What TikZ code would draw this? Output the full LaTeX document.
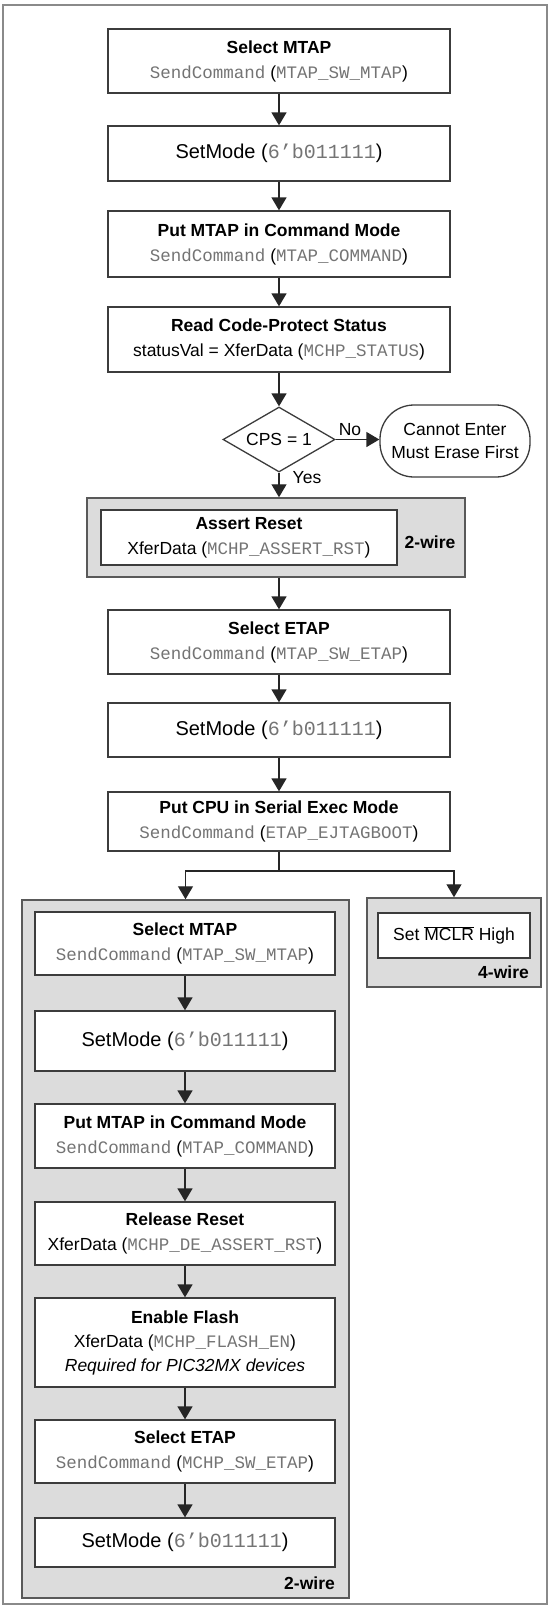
\documentclass[tikz,border=0pt]{standalone}
\usepackage{fontspec}
\setmainfont{Liberation Sans}
\setmonofont{Liberation Mono}
\usetikzlibrary{arrows.meta,shapes.geometric}
\definecolor{boxline}{HTML}{3C3C3C}
\definecolor{wirefill}{HTML}{DCDCDC}
\definecolor{framegray}{HTML}{8A8A8A}
\definecolor{codegray}{HTML}{747474}
\newcommand{\code}[1]{{\ttfamily\color{codegray}#1}}
\tikzset{stepbox/.style={rectangle,draw=boxline,line width=1.3pt,fill=white,align=center,inner sep=0pt,font=\fontsize{17.5}{25}\selectfont}}
\tikzset{modebox/.style={stepbox,font=\fontsize{20}{24}\selectfont}}
\tikzset{wirebox/.style={rectangle,draw=boxline!85,line width=1.5pt,fill=wirefill,inner sep=0pt}}
\tikzset{decision/.style={diamond,draw=boxline,line width=1.3pt,fill=white,inner sep=0pt,aspect=1.72,font=\fontsize{17.5}{21}\selectfont}}
\tikzset{terminal/.style={rectangle,rounded corners=34pt,draw=boxline,line width=1.3pt,fill=white,align=center,inner sep=0pt,font=\fontsize{17.5}{23}\selectfont}}
\tikzset{flow/.style={line width=1.4pt,draw=black!85,-{Triangle[width=15pt,length=13pt]}}}
\tikzset{wire/.style={inner sep=0pt,font=\bfseries\fontsize{17.5}{21}\selectfont}}
\tikzset{tag/.style={inner sep=0pt,font=\fontsize{17.5}{21}\selectfont}}

\begin{document}
\begin{tikzpicture}[x=1pt,y=-1pt]
  \useasboundingbox (0,0) rectangle (551,1609);
  \draw[framegray,line width=1.5pt] (3,5) rectangle (547,1604);
  \node[stepbox,minimum width=342pt,minimum height=64pt] (sel1) at (279,61) {\textbf{Select MTAP}\\\code{SendCommand} (\code{MTAP\_SW\_MTAP})};
  \node[modebox,minimum width=342pt,minimum height=55pt] (mode1) at (279,153.5) {SetMode (\code{6’b011111})};
  \node[stepbox,minimum width=342pt,minimum height=66pt] (cmd1) at (279,244) {\textbf{Put MTAP in Command Mode}\\\code{SendCommand} (\code{MTAP\_COMMAND})};
  \node[stepbox,minimum width=342pt,minimum height=65pt] (status) at (279,339.5) {\textbf{Read Code-Protect Status}\\statusVal = XferData (\code{MCHP\_STATUS})};
  \node[decision,minimum width=112pt,minimum height=65pt] (cps) at (279,439.5) {CPS = 1};
  \node[terminal,minimum width=150pt,minimum height=72pt] (erase) at (455,441) {Cannot Enter\\Must Erase First};
  \node[tag] (no) at (350,430) {No};
  \node[tag] (yes) at (307,478) {Yes};
  \node[wirebox,minimum width=378pt,minimum height=79pt] (rstwire) at (276,537.5) {};
  \node[stepbox,minimum width=296pt,minimum height=55pt] (assert) at (249,537.5) {\textbf{Assert Reset}\\XferData (\code{MCHP\_ASSERT\_RST})};
  \node[wire] (w2a) at (430,542) {2-wire};
  \node[stepbox,minimum width=342pt,minimum height=64pt] (sele1) at (279,642) {\textbf{Select ETAP}\\\code{SendCommand} (\code{MTAP\_SW\_ETAP})};
  \node[modebox,minimum width=342pt,minimum height=54pt] (mode2) at (279,730) {SetMode (\code{6’b011111})};
  \node[stepbox,minimum width=342pt,minimum height=59pt] (cpu) at (279,821.5) {\textbf{Put CPU in Serial Exec Mode}\\\code{SendCommand} (\code{ETAP\_EJTAGBOOT})};
  \coordinate (split) at (279,871);
  \node[wirebox,minimum width=327pt,minimum height=698pt] (lwire) at (185.5,1249) {};
  \node[wirebox,minimum width=174pt,minimum height=89pt] (rwire) at (454,942.5) {};
  \node[stepbox,minimum width=152pt,minimum height=45pt] (mclr) at (454,935.5) {Set $\overline{\hbox{MCLR}}$ High};
  \node[wire,anchor=east] (w4) at (529,972) {4-wire};
  \node[stepbox,minimum width=300pt,minimum height=63pt] (sel2) at (185,943.5) {\textbf{Select MTAP}\\\code{SendCommand} (\code{MTAP\_SW\_MTAP})};
  \node[modebox,minimum width=300pt,minimum height=60pt] (mode3) at (185,1041) {SetMode (\code{6’b011111})};
  \node[stepbox,minimum width=300pt,minimum height=64pt] (cmd2) at (185,1136) {\textbf{Put MTAP in Command Mode}\\\code{SendCommand} (\code{MTAP\_COMMAND})};
  \node[stepbox,minimum width=300pt,minimum height=63pt] (rel) at (185,1233.5) {\textbf{Release Reset}\\XferData (\code{MCHP\_DE\_ASSERT\_RST})};
  \node[stepbox,minimum width=300pt,minimum height=89pt,font=\fontsize{17.5}{24}\selectfont] (flash) at (185,1342.5) {\textbf{Enable Flash}\\XferData (\code{MCHP\_FLASH\_EN})\\\textit{Required for PIC32MX devices}};
  \node[stepbox,minimum width=300pt,minimum height=63pt] (sele2) at (185,1451.5) {\textbf{Select ETAP}\\\code{SendCommand} (\code{MCHP\_SW\_ETAP})};
  \node[modebox,minimum width=300pt,minimum height=49pt] (mode4) at (185,1542.5) {SetMode (\code{6’b011111})};
  \node[wire,anchor=east] (w2b) at (335,1583) {2-wire};
  \draw[flow] (sel1) -- (mode1);
  \draw[flow] (mode1) -- (cmd1);
  \draw[flow] (cmd1) -- (status);
  \draw[flow] (status) -- (cps);
  \draw[flow] (cps.east) -- (cps.east -| erase.west);
  \draw[flow] (cps.south) -- (cps.south |- rstwire.north);
  \draw[flow] (sele1.north |- rstwire.south) -- (sele1.north);
  \draw[flow] (sele1) -- (mode2);
  \draw[flow] (mode2) -- (cpu);
  \draw[line width=1.4pt,draw=black!85] (cpu.south) -- (split);
  \draw[flow] (split) -| (lwire.north);
  \draw[flow] (split) -| (rwire.north);
  \draw[flow] (sel2) -- (mode3);
  \draw[flow] (mode3) -- (cmd2);
  \draw[flow] (cmd2) -- (rel);
  \draw[flow] (rel) -- (flash);
  \draw[flow] (flash) -- (sele2);
  \draw[flow] (sele2) -- (mode4);
\end{tikzpicture}
\end{document}
